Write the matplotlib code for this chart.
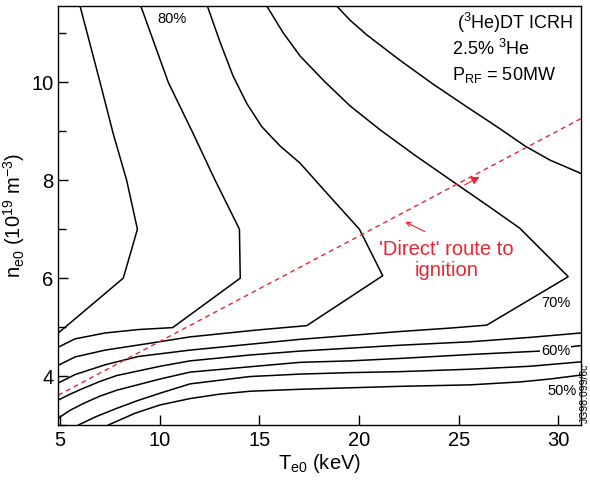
import matplotlib
matplotlib.use('Agg')
import matplotlib.pyplot as plt
from matplotlib.ticker import MultipleLocator

plt.rcParams['font.family'] = ['Liberation Sans', 'DejaVu Sans']
plt.rcParams['mathtext.fontset'] = 'custom'
plt.rcParams['mathtext.rm'] = 'Liberation Sans'
plt.rcParams['mathtext.it'] = 'Liberation Sans:italic'
plt.rcParams['mathtext.bf'] = 'Liberation Sans:bold'

RED = '#e8262f'

# contour lines: (T_e0 keV, n_e0 1e19 m^-3)
a_T = [6.00, 7.00, 7.66, 8.34, 8.88, 8.17, 4.91]
a_n = [11.56, 10.01, 8.96, 8.00, 7.00, 6.00, 4.88]

b_T = [9.05, 10.43, 11.67, 12.78, 14.00, 14.04, 10.65, 8.93, 7.26, 5.75, 4.91]
b_n = [11.56, 10.00, 8.96, 8.00, 7.00, 6.00, 4.99, 4.95, 4.88, 4.76, 4.59]

c_T = [12.39, 13.03, 13.68, 14.38, 15.13, 16.04, 17.04, 18.51, 20.02, 21.19,
       17.38, 14.87, 11.52, 9.51, 7.26, 5.75, 4.91]
c_n = [11.56, 10.82, 10.13, 9.56, 9.09, 8.70, 8.35, 7.68, 7.00, 6.05,
       5.03, 4.94, 4.80, 4.67, 4.53, 4.39, 4.22]

d_T = [15.37, 16.20, 17.04, 18.29, 19.55, 21.06, 22.81, 24.90, 26.57, 28.07, 30.50,
       26.41, 24.57, 22.06, 19.55, 17.04, 14.53, 11.52, 8.93, 7.26, 5.75, 4.91]
d_n = [11.56, 11.01, 10.54, 10.01, 9.52, 9.03, 8.51, 7.92, 7.45, 7.02, 6.03,
       5.04, 4.98, 4.91, 4.83, 4.75, 4.65, 4.53, 4.40, 4.23, 4.03, 3.86]

e_T = [18.88, 19.55, 20.39, 22.06, 23.73, 25.41, 27.08, 28.33, 29.59, 31.14]
e_n = [11.56, 11.27, 10.97, 10.45, 9.96, 9.50, 9.05, 8.70, 8.41, 8.14]

f_T = [4.91, 5.50, 6.17, 7.00, 7.84, 10.02, 11.52, 14.53, 17.04, 19.55, 22.06, 25.57, 28.58, 31.14]
f_n = [3.51, 3.63, 3.75, 3.89, 4.01, 4.20, 4.31, 4.43, 4.51, 4.57, 4.63, 4.70, 4.79, 4.88]

g_T = [4.91, 5.50, 6.17, 7.00, 7.84, 10.02, 11.52, 14.53, 17.04, 19.55, 22.06, 25.57, 29.08, 30.84, 31.14]
g_n = [3.14, 3.30, 3.44, 3.59, 3.71, 3.94, 4.08, 4.19, 4.28, 4.31, 4.36, 4.44, 4.51, 4.61, 4.62]

h_T = [5.92, 6.80, 7.84, 8.90, 10.02, 11.52, 14.53, 17.04, 19.55, 22.06, 25.57, 28.58, 31.14]
h_n = [3.00, 3.17, 3.34, 3.50, 3.65, 3.84, 3.99, 4.04, 4.07, 4.09, 4.14, 4.20, 4.29]

i_T = [7.42, 8.76, 10.02, 11.52, 13.00, 14.53, 17.04, 19.55, 22.06, 25.57, 28.08, 29.59, 31.14]
i_n = [3.00, 3.24, 3.41, 3.54, 3.63, 3.69, 3.73, 3.76, 3.79, 3.82, 3.88, 3.94, 4.02]

contours = [(a_T, a_n), (b_T, b_n), (c_T, c_n), (d_T, d_n), (e_T, e_n),
            (f_T, f_n), (g_T, g_n), (h_T, h_n), (i_T, i_n)]

# contour labels
lab_text = ['80%', '70%', '60%', '50%']
lab_T = [10.62, 29.89, 29.88, 30.18]
lab_n = [11.30, 5.49, 4.51, 3.70]

# 'direct' route to ignition
route_T = [4.91, 31.14]
route_n = [3.61, 9.26]

fig = plt.figure(figsize=(5.9, 4.8), dpi=100)
ax = fig.add_axes([58.3 / 590, 1 - 425 / 480, 522.7 / 590, 419 / 480])

for T, n in contours:
    ax.plot(T, n, color='black', lw=1.1, solid_joinstyle='miter')

ax.plot(route_T, route_n, color=RED, lw=1.0, linestyle=(0, (3.5, 2.8)))
# arrow head along the route
ax.annotate('', xy=(26.05, 8.07), xytext=(25.3, 7.905),
            arrowprops=dict(arrowstyle='-|>', color=RED, lw=0.8, mutation_scale=12,
                            shrinkA=0, shrinkB=0))
# pointer from the text
ax.annotate('', xy=(22.32, 7.15), xytext=(23.31, 6.95),
            arrowprops=dict(arrowstyle='->', color=RED, lw=0.8, mutation_scale=8,
                            shrinkA=0, shrinkB=0))
ax.text(24.37, 6.37, "'Direct' route to\nignition", color=RED, fontsize=14.5,
        ha='center', va='center', linespacing=1.1)

for s, T, n in zip(lab_text, lab_T, lab_n):
    ax.text(T, n, s, fontsize=10.5, ha='center', va='center',
            bbox=dict(facecolor='white', edgecolor='none', pad=0.6))

ax.text(0.762, 0.944, '($^3$He)DT ICRH', transform=ax.transAxes, fontsize=13, va='baseline')
ax.text(0.753, 0.883, '2.5% $^3$He', transform=ax.transAxes, fontsize=13, va='baseline')
ax.text(0.753, 0.823, 'P$_{\\mathrm{RF}}$ = 50MW', transform=ax.transAxes, fontsize=13,
        va='baseline')

ax.set_xlim(4.91, 31.14)
ax.set_ylim(3.0, 11.56)
ax.xaxis.set_major_locator(MultipleLocator(5))
ax.yaxis.set_major_locator(MultipleLocator(2))
ax.yaxis.set_minor_locator(MultipleLocator(1))
ax.tick_params(direction='in', labelsize=14.5, length=7, width=1.0)
ax.tick_params(which='minor', direction='in', length=6, width=1.0)
ax.tick_params(axis='x', pad=4)
for sp in ax.spines.values():
    sp.set_linewidth(1.0)

ax.set_xlabel('T$_{\\mathrm{e0}}$ (keV)', fontsize=14.5, labelpad=2)
ax.set_ylabel('n$_{\\mathrm{e0}}$ (10$^{19}$ m$^{-3}$)', fontsize=14.5, labelpad=3)

fig.text(0.991, 0.119, 'JG98.099/6c', rotation=90, fontsize=7.5, ha='center', va='bottom')

fig.savefig('out.png', dpi=100)
